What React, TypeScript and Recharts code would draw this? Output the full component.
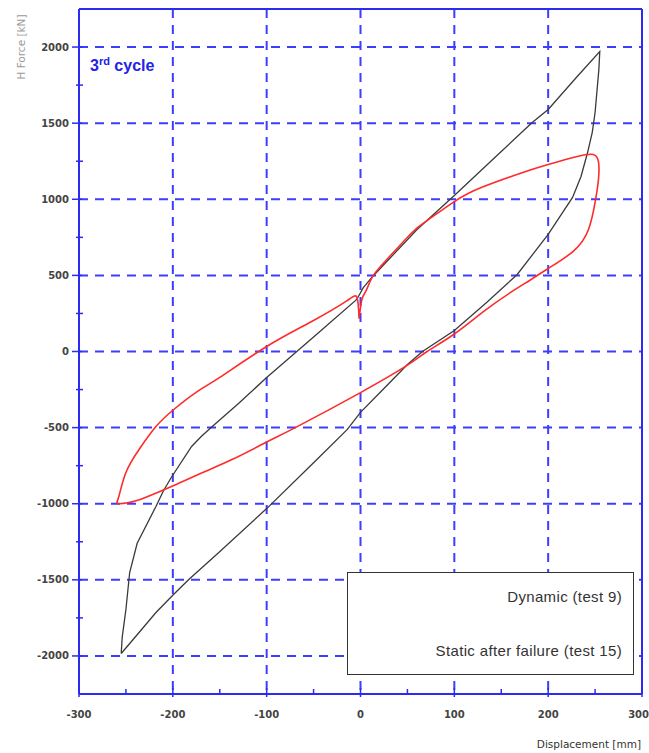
import { LineChart, Line, XAxis, YAxis, CartesianGrid, ReferenceLine, Legend } from "recharts";

// Dynamic (test 9) hysteresis loop, displacement [mm] / force [kN]
const dynamicX = [
  -255, -236, -218, -199, -183, -151, -100, -50, -14, 0, 25, 50, 66, 100, 135, 167, 200, 226, 235, 242, 247, 250, 254, 255,
  230, 200, 183, 150, 100, 60, 30, 13, 3, -4, -50, -100, -130, -158, -170, -180, -201, -210, -218, -238, -246, -250, -254, -255,
];
const dynamicY = [
  -1984, -1846, -1715, -1595, -1498, -1320, -1032, -731, -512, -400, -243, -85, 0, 138, 325, 506, 769, 1012, 1150, 1307, 1440, 1570, 1850, 1971,
  1800, 1590, 1504, 1314, 1025, 800, 604, 493, 420, 342, 95, -171, -342, -493, -560, -624, -821, -915, -1018, -1260, -1452, -1695, -1880, -1984,
];

// Static after failure (test 15)
const staticX = [
  -1.5, 1.5, 6, 13, 28, 55, 71, 100, 130, 173, 200, 231, 248, 253.6, 253.6, 250, 243, 227, 200, 181, 160, 131, 100, 71, 50, 0,
  -68, -100, -137, -170, -199, -230, -247, -258.6, -257.6, -250, -236, -218, -199, -175.6, -150, -100, -52, -15.5, -3.7, -1.5,
];
const staticY = [
  215, 342, 400, 493, 604, 782, 860, 985, 1080, 1176, 1228, 1281, 1294, 1248, 1130, 979, 802, 660, 545, 470, 388, 262, 115, 0, -90, -270,
  -495, -595, -710, -800, -880, -960, -992, -999, -953, -795, -644, -493, -381, -270, -170, 33, 197, 329, 355, 215,
];

const xTicks = [-300, -250, -200, -150, -100, -50, 0, 50, 100, 150, 200, 250, 300];
const yTicks = [-2000, -1750, -1500, -1250, -1000, -750, -500, -250, 0, 250, 500, 750, 1000, 1250, 1500, 1750, 2000];
const xGrid = [-200, -100, 0, 100, 200];
const yGrid = [-2000, -1500, -1000, -500, 0, 500, 1000, 1500, 2000];

const dynamicData = dynamicX.map((x, i) => ({ x, y: dynamicY[i] }));
const staticData = staticX.map((x, i) => ({ x, y: staticY[i] }));

const FRAME = "#2b2bf2";
const GRID = "#3d3dff";
const TICK_FONT = { fontFamily: "DejaVu Sans", fontSize: 10, fontWeight: 700, fill: "#444" };

function YTick({ x, y, payload }: any) {
  const major = payload.value % 500 === 0;
  const ax = x + 8;
  return (
    <g>
      <line x1={ax - (major ? 7 : 3)} x2={ax + (major ? 3 : 4)} y1={y} y2={y} stroke={FRAME} strokeWidth={1.5} />
      {major && (
        <text x={ax - 10} y={y} dy="0.35em" textAnchor="end" {...TICK_FONT}>
          {payload.value}
        </text>
      )}
    </g>
  );
}

function XTick({ x, y, payload, index, visibleTicksCount }: any) {
  const major = payload.value % 100 === 0;
  const ay = y - 20;
  // last label sits against the right edge of the canvas
  const last = index === visibleTicksCount - 1;
  return (
    <g>
      <line x1={x} x2={x} y1={ay - (major ? 6 : 5)} y2={ay + (major ? 3 : 0)} stroke={FRAME} strokeWidth={1.5} />
      {major && (
        <text x={last ? x + 7 : x} y={y} dy="0.35em" textAnchor={last ? "end" : "middle"} {...TICK_FONT}>
          {payload.value}
        </text>
      )}
    </g>
  );
}

function YTitle({ viewBox }: any) {
  const cx = viewBox.x + 21;
  const cy = viewBox.y + 38;
  return (
    <text x={cx} y={cy} transform={`rotate(-90 ${cx} ${cy})`} textAnchor="middle" dy="0.35em"
      fontFamily="DejaVu Sans" fontSize={10.5} fill="#9a9a9a">
      H Force [kN]
    </text>
  );
}

function XTitle({ viewBox }: any) {
  return (
    <text x={viewBox.x + viewBox.width - 1} y={viewBox.y + 50} dy="0.35em" textAnchor="end"
      fontFamily="DejaVu Sans" fontSize={10.5} fill="#333">
      Displacement [mm]
    </text>
  );
}

function LegendBox({ payload }: any) {
  return (
    <div style={{ width: 287, height: 103, boxSizing: "border-box", border: "1.5px solid #333", background: "#fff", position: "relative" }}>
      {(payload || []).map((p: any, i: number) => (
        <div key={p.value} style={{
          position: "absolute", right: 11, top: i === 0 ? 14 : 68, lineHeight: "20px", whiteSpace: "nowrap",
          fontFamily: "Liberation Sans", fontSize: 15, letterSpacing: 0.35, color: "#333",
        }}>
          {p.value}
        </div>
      ))}
    </div>
  );
}

export default function App() {
  return (
    <div style={{ position: "absolute", left: 0, top: 0, width: 649, height: 753, background: "#fff" }}>
      <LineChart width={649} height={753} margin={{ top: 9, right: 7, bottom: 0, left: 0 }}>
        <CartesianGrid stroke={GRID} strokeWidth={2} strokeDasharray="9 7" verticalValues={xGrid} horizontalValues={yGrid} />
        <XAxis type="number" dataKey="x" domain={[-300, 300]} ticks={xTicks} interval={0} height={59}
          allowDataOverflow axisLine={{ stroke: FRAME, strokeWidth: 2 }} tickLine={false} tickSize={0} tickMargin={20}
          tick={<XTick />} label={<XTitle />} />
        <YAxis type="number" dataKey="y" domain={[-2250, 2250]} ticks={yTicks} interval={0} width={79}
          allowDataOverflow axisLine={{ stroke: FRAME, strokeWidth: 2 }} tickLine={false} tickSize={0} tickMargin={8}
          tick={<YTick />} label={<YTitle />} />
        <ReferenceLine y={2250} stroke={FRAME} strokeWidth={2} />
        <ReferenceLine x={300} stroke={FRAME} strokeWidth={2} />
        <Line data={dynamicData} dataKey="y" name="Dynamic (test 9)" type="linear" stroke="#3a3a3a" strokeWidth={1.3}
          dot={false} activeDot={false} isAnimationActive={false} />
        <Line data={staticData} dataKey="y" name="Static after failure (test 15)" type="natural" stroke="#ff2a2a" strokeWidth={1.6}
          dot={false} activeDot={false} isAnimationActive={false} />
        <Legend layout="horizontal" verticalAlign="middle" align="center" content={<LegendBox />}
          wrapperStyle={{ left: 347, top: 572, width: 287, height: 103 }} />
      </LineChart>
      <div style={{ position: "absolute", left: 90, top: 55, fontFamily: "Liberation Sans", fontWeight: 700, fontSize: 16, color: "#2323e6" }}>
        3<sup style={{ fontSize: 11 }}>rd</sup> cycle
      </div>
    </div>
  );
}
